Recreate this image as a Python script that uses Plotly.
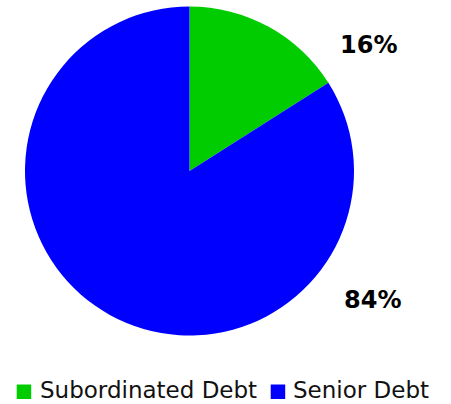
import plotly.graph_objects as go

categories = ["Subordinated Debt", "Senior Debt"]
shares = [16, 84]
colors = ["#00CC00", "#0000FF"]

W, H = 451, 404
cx, cy, r = 189.5, 171.0, 164.5

fig = go.Figure(
    go.Pie(
        labels=categories,
        values=shares,
        sort=False,
        direction="clockwise",
        rotation=0,
        marker=dict(colors=colors, line=dict(width=0)),
        textinfo="none",
        hoverinfo="label+percent",
        showlegend=False,
        domain=dict(
            x=[(cx - r) / W, (cx + r) / W],
            y=[(H - cy - r) / H, (H - cy + r) / H],
        ),
    )
)

# percentage labels to the right of the pie
label_pos = [(368, 45), (372, 300)]
total = sum(shares)
for v, (px, py) in zip(shares, label_pos):
    fig.add_annotation(
        x=px / W, y=1 - py / H, xref="paper", yref="paper",
        text=f"<b>{round(100 * v / total)}%</b>", showarrow=False,
        font=dict(family="DejaVu Sans", size=24, color="#000000"),
        xanchor="center", yanchor="middle",
    )

# legend row: colour square followed by the category name
legend_x = [(16.7, 39), (270.7, 291.5)]
ly0, ly1 = 384.5, 399.0
for name, col, (sx, tx) in zip(categories, colors, legend_x):
    fig.add_shape(
        type="rect", xref="paper", yref="paper",
        x0=sx / W, x1=(sx + 14.5) / W, y0=1 - ly1 / H, y1=1 - ly0 / H,
        fillcolor=col, line=dict(width=0),
    )
    fig.add_annotation(
        x=tx / W, y=0, xref="paper", yref="paper",
        text=name, showarrow=False, xanchor="left", yanchor="bottom",
        borderpad=0,
        font=dict(family="DejaVu Sans", size=23, color="#111111"),
    )

fig.update_layout(
    width=W, height=H,
    margin=dict(l=0, r=0, t=0, b=0),
    paper_bgcolor="white", plot_bgcolor="white",
    font=dict(family="DejaVu Sans", size=23, color="#111111"),
    showlegend=False,
)

fig.write_html("out.html")
